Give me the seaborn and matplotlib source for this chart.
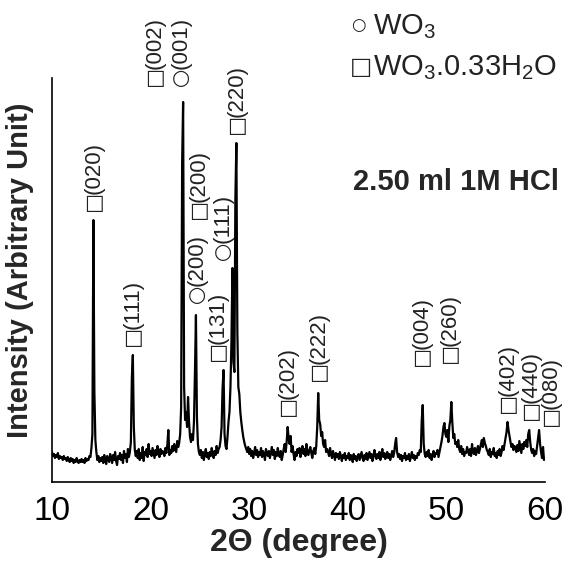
import numpy as np
import pandas as pd
import matplotlib
matplotlib.use("Agg")
import matplotlib.pyplot as plt
import seaborn as sns

# ---- data -------------------------------------------------------------
two_theta_start = 10.0
two_theta_step = 0.1
intensity_rows = [
    [30, 26, 28, 24, 27, 25, 29, 23, 26, 24],          # 10.x
    [25, 22, 26, 23, 24, 21, 25, 22, 20, 24],          # 11.x
    [21, 23, 19, 22, 20, 24, 21, 19, 22, 20],          # 12.x
    [23, 20, 22, 19, 24, 21, 23, 22, 26, 25],          # 13.x
    [34, 48, 262, 90, 42, 30, 22, 26, 20, 24],         # 14.x
    [21, 25, 19, 27, 22, 18, 26, 23, 20, 28],          # 15.x
    [24, 19, 27, 22, 30, 21, 17, 26, 23, 29],          # 16.x
    [22, 27, 19, 31, 24, 28, 20, 33, 25, 30],          # 17.x
    [40, 104, 127, 55, 32, 26, 31, 24, 33, 22],        # 18.x
    [29, 24, 35, 21, 30, 27, 33, 25, 38, 28],          # 19.x
    [31, 26, 34, 29, 24, 32, 27, 36, 30, 25],          # 20.x
    [33, 28, 31, 30, 26, 34, 29, 37, 52, 27],          # 21.x
    [32, 29, 36, 31, 38, 34, 30, 41, 35, 39],          # 22.x
    [48, 75, 320, 380, 95, 62, 70, 55, 85, 60],        # 23.x
    [45, 40, 48, 42, 60, 110, 167, 65, 38, 30],        # 24.x
    [27, 32, 24, 30, 22, 28, 33, 25, 29, 23],          # 25.x
    [30, 26, 34, 28, 24, 31, 27, 36, 29, 33],          # 26.x
    [35, 42, 55, 94, 112, 48, 36, 33, 45, 60],         # 27.x
    [70, 95, 140, 214, 120, 110, 284, 339, 150, 95],   # 28.x
    [88, 70, 60, 52, 45, 40, 36, 33, 30, 35],          # 29.x
    [28, 33, 26, 31, 24, 29, 35, 27, 32, 25],          # 30.x
    [30, 27, 34, 25, 31, 28, 22, 33, 29, 26],          # 31.x
    [31, 24, 29, 35, 27, 32, 23, 30, 26, 34],          # 32.x
    [28, 25, 31, 22, 27, 33, 38, 30, 40, 55],          # 33.x
    [44, 38, 46, 30, 36, 28, 22, 30, 26, 33],          # 34.x
    [29, 34, 25, 31, 36, 28, 33, 26, 38, 30],          # 35.x
    [27, 32, 35, 29, 24, 31, 34, 28, 36, 55],          # 36.x
    [89, 62, 58, 46, 50, 38, 35, 42, 30, 33],          # 37.x
    [30, 26, 34, 28, 24, 31, 27, 22, 29, 25],          # 38.x
    [28, 23, 30, 26, 21, 27, 24, 29, 22, 26],          # 39.x
    [24, 29, 22, 27, 25, 20, 28, 23, 26, 21],          # 40.x
    [25, 28, 22, 26, 30, 24, 21, 27, 23, 29],          # 41.x
    [22, 26, 30, 24, 28, 21, 25, 32, 27, 23],          # 42.x
    [28, 24, 30, 22, 27, 33, 25, 29, 23, 26],          # 43.x
    [30, 24, 28, 22, 26, 31, 25, 29, 38, 44],          # 44.x
    [30, 25, 28, 23, 27, 21, 26, 24, 29, 22],          # 45.x
    [26, 23, 28, 21, 25, 30, 24, 27, 22, 26],          # 46.x
    [24, 29, 27, 32, 30, 62, 77, 38, 28, 25],          # 47.x
    [30, 26, 32, 24, 28, 22, 27, 31, 25, 29],          # 48.x
    [28, 32, 25, 30, 35, 40, 46, 55, 59, 48],          # 49.x
    [45, 52, 40, 56, 62, 80, 60, 44, 48, 38],          # 50.x
    [40, 35, 42, 33, 30, 36, 28, 33, 26, 30],          # 51.x
    [29, 35, 31, 27, 33, 26, 38, 30, 28, 34],          # 52.x
    [27, 31, 36, 29, 33, 38, 42, 35, 44, 39],          # 53.x
    [36, 32, 30, 27, 33, 25, 30, 28, 34, 26],          # 54.x
    [29, 24, 31, 27, 33, 26, 30, 36, 32, 38],          # 55.x
    [44, 50, 60, 52, 46, 40, 35, 38, 32, 36],          # 56.x
    [34, 30, 37, 31, 41, 35, 29, 38, 33, 40],          # 57.x
    [36, 42, 35, 48, 52, 40, 32, 29, 33, 26],          # 58.x
    [31, 28, 36, 44, 52, 38, 30, 24, 35, 22],          # 59.x
]

peak_symbols = ["□", "□", "□", "○", "○", "□", "□", "○", "□", "□", "□", "□",
                "□", "□", "□", "□"]
peak_hkl = ["(020)", "(111)", "(002)", "(001)", "(200)", "(200)", "(131)",
            "(111)", "(220)", "(202)", "(222)", "(004)", "(260)", "(402)",
            "(440)", "(080)"]
peak_label_theta = [14.26, 18.2, 20.45, 23.1, 24.7, 24.95, 26.84, 27.34,
                    28.76, 33.94, 37.08, 47.5, 50.36, 56.25, 58.58, 60.6]
peak_label_level = [269, 134, 394, 394, 177, 261, 119, 220, 346, 64, 99,
                    114, 117, 67, 60, 54]

x_ticks = [10, 20, 30, 40, 50, 60]
x_minor_ticks = [15, 25, 35, 45, 55]

# ---- build table ------------------------------------------------------
intensity = [v for row in intensity_rows for v in row]
two_theta = two_theta_start + two_theta_step * np.arange(len(intensity))
df = pd.DataFrame({"two_theta": two_theta, "intensity": intensity})

# ---- figure -----------------------------------------------------------
sns.set_style("white")
plt.rcParams["font.family"] = ["Liberation Sans", "DejaVu Sans"]
plt.rcParams["mathtext.fontset"] = "custom"
plt.rcParams["mathtext.rm"] = "Liberation Sans"
plt.rcParams["mathtext.default"] = "regular"

fig = plt.figure(figsize=(5.65, 5.61), dpi=100)
ax = fig.add_axes([0.092, 0.1408, 0.8726, 0.7201])

sns.lineplot(data=df, x="two_theta", y="intensity", ax=ax,
             color="black", linewidth=1.6, estimator=None)

ax.set_xlim(10, 60)
ax.set_ylim(0, 404)
ax.set_xticks(x_ticks)
ax.set_xticks(x_minor_ticks, minor=True)
ax.set_yticks([])
ax.tick_params(axis="x", which="major", direction="out", length=8,
               width=1.2, labelsize=24, pad=2, colors="black")
ax.tick_params(axis="x", which="minor", direction="out", length=6,
               width=1.2, colors="black")
for side in ("top", "right"):
    ax.spines[side].set_visible(False)
for side in ("left", "bottom"):
    ax.spines[side].set_color("black")
    ax.spines[side].set_linewidth(1.2)

ax.set_xlabel("2Θ (degree)", fontsize=23, fontweight="bold", labelpad=1)
ax.set_ylabel("Intensity (Arbitrary Unit)", fontsize=21, fontweight="bold")
ax.yaxis.set_label_coords(-0.036, 0.525)

for sym, hkl, xt, yl in zip(peak_symbols, peak_hkl, peak_label_theta,
                            peak_label_level):
    ax.text(xt, yl, sym, ha="center", va="bottom", fontsize=15,
            color="#222222", clip_on=False, family="DejaVu Sans")
    ax.annotate(hkl, xy=(xt, yl), xytext=(0, 14), textcoords="offset points",
                rotation=90, ha="center", va="bottom", fontsize=16,
                color="#222222", annotation_clip=False)

# legend-like key
fig.text(0.622, 0.955, "○", fontsize=12, ha="left", va="center",
         family="DejaVu Sans", color="#222222")
fig.text(0.660, 0.952, "WO$_3$", fontsize=21, ha="left", va="center",
         color="#222222")
fig.text(0.620, 0.880, "□", fontsize=17, ha="left", va="center",
         family="DejaVu Sans", color="#222222")
fig.text(0.660, 0.879, "WO$_3$.0.33H$_2$O", fontsize=21, ha="left",
         va="center", color="#222222")
fig.text(0.624, 0.676, "2.50 ml 1M HCl", fontsize=21, ha="left",
         va="center", fontweight="bold")

fig.savefig("out.png", dpi=100)
